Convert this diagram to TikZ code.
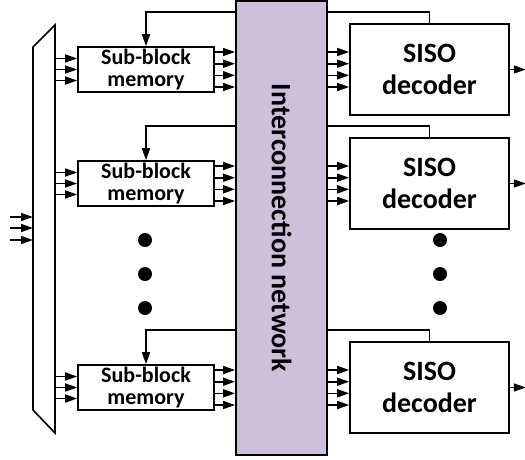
\documentclass[tikz,border=0pt]{standalone}
\usepackage{fontspec}
\setmainfont{Carlito}
\usepackage{tikz}
\usetikzlibrary{arrows.meta,positioning,calc}
\definecolor{netLilac}{RGB}{204,192,218}
\definecolor{wireBlack}{RGB}{0,0,0}

\begin{document}
\begin{tikzpicture}[
    x=1pt, y=-1pt,
    memBox/.style={rectangle, draw=wireBlack, line width=1.6pt, fill=white, minimum width=136pt, minimum height=45pt, inner sep=0pt, align=center, font=\bfseries\fontsize{22}{22}\selectfont},
    decBox/.style={rectangle, draw=wireBlack, line width=1.6pt, fill=white, minimum width=159pt, minimum height=91pt, inner sep=0pt, align=center, font=\bfseries\fontsize{28}{32}\selectfont},
    netBox/.style={rectangle, draw=wireBlack, line width=1.8pt, fill=netLilac, minimum width=91pt, minimum height=454pt},
    arrow/.style={-{Triangle[length=12pt,width=8pt]}, line width=1.6pt, draw=wireBlack},
    link/.style={line width=1.6pt, draw=wireBlack},
    dot/.style={circle, fill=wireBlack, inner sep=0pt, minimum size=14pt}
]
\useasboundingbox (0,0) rectangle (525,459);

% input mux
\draw[link, line join=miter] (33,47) -- (55,25) -- (55,433) -- (33,410) -- cycle;
\coordinate (muxL) at (33,228);
\coordinate (muxR) at (55,228);

% interconnection network
\node[netBox] (net) at (281.5,228) {};
\node[rotate=-90, font=\bfseries\fontsize{28}{30}\selectfont] (netLabel) at (net.center) {Interconnection network};

% memories and decoders
\node[memBox] (mem1) at (146,69.5) {Sub-block\\memory};
\node[memBox] (mem2) at (146,183.5) {Sub-block\\memory};
\node[memBox] (mem3) at (146,387.5) {Sub-block\\memory};
\node[decBox] (dec1) at (429.5,69.5) {SISO\\decoder};
\node[decBox] (dec2) at (429.5,183.5) {SISO\\decoder};
\node[decBox] (dec3) at (429.5,387.5) {SISO\\decoder};

% dots
\foreach \y [count=\i] in {240,274,308} {
    \node[dot] (mdot\i) at (145,\y) {};
    \node[dot] (ddot\i) at (440,\y) {};
}

% inputs
\foreach \dy [count=\i] in {-11,0,12} {
    \coordinate (in\i) at ($(muxL)+(-23,\dy)$);
    \draw[arrow] (in\i) -- ($(muxL)+(0,\dy)$);
}

\foreach \k in {1,2,3} {
    % mux to memory
    \foreach \dy in {-11,0,11}
        \draw[arrow] ($(muxR |- mem\k.west)+(0,\dy)$) -- ($(mem\k.west)+(0,\dy)$);
    % memory to network, network to decoder
    \foreach \dy in {-17.5,-5.8,5.8,17.5} {
        \draw[arrow] ($(mem\k.east)+(0,\dy)$) -- ($(net.west |- mem\k.east)+(0,\dy)$);
        \draw[arrow] ($(net.east |- dec\k.west)+(0,\dy)$) -- ($(dec\k.west)+(0,\dy)$);
    }
    % feedback
    \draw[link] (dec\k.north) |- ($(net.east |- dec\k.north)+(0,-11)$);
    \draw[arrow] ($(net.west |- mem\k.north)+(0,-34)$) -| (mem\k.north);
    % output
    \coordinate (out\k) at ($(dec\k.east)+(16,0)$);
    \draw[arrow] (dec\k.east) -- (out\k);
}
\end{tikzpicture}
\end{document}
